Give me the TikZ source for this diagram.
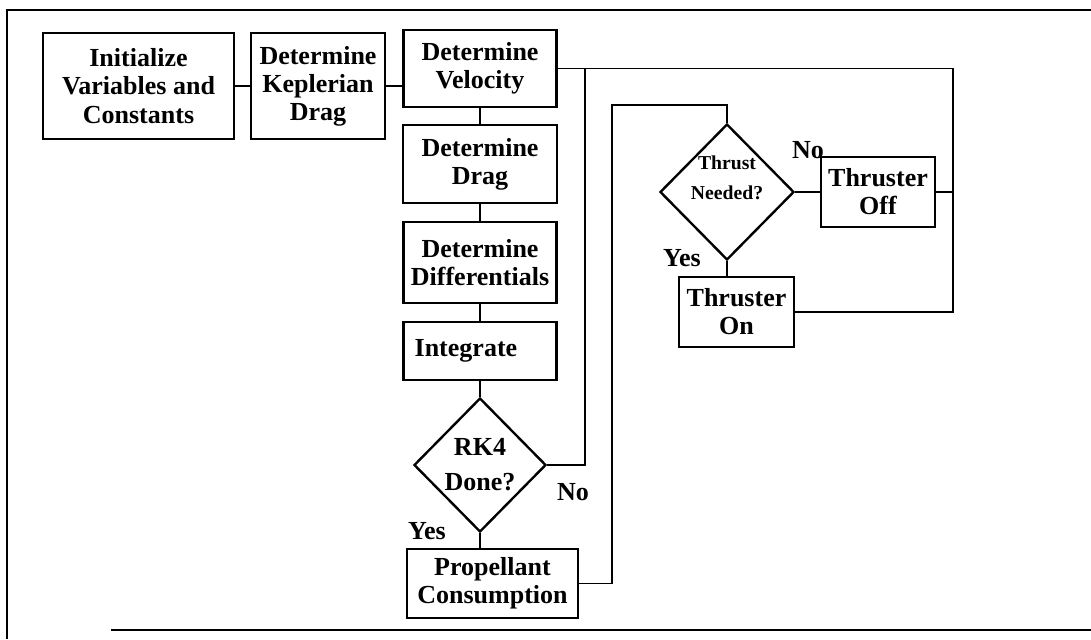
\documentclass[tikz,border=0pt]{standalone}
\usepackage{fontspec}
\setmainfont{Liberation Serif}
\usetikzlibrary{shapes.geometric}

\begin{document}
\begin{tikzpicture}[x=0.025cm,y=-0.025cm]
\tikzstyle{every path}=[line width=1.3pt];
\tikzstyle{blk}=[draw,line width=1.7pt,align=center,inner sep=1pt,font=\fontsize{18.5}{20}\selectfont\bfseries];
\tikzstyle{dec}=[blk,shape=diamond,inner sep=0pt];
\tikzstyle{lbl}=[font=\fontsize{18.5}{20}\selectfont\bfseries];
\useasboundingbox (0,0) rectangle (1091,639);
\draw[line width=0.8pt] (7,639) -- (7,10) -- (1091,10);
\draw[line width=0.8pt] (111,630) -- (1091,630);
\node (init) [blk,minimum width=4.775cm,minimum height=2.65cm] at (138.5,86) {Initialize\\Variables and\\Constants};
\node (kepler) [blk,minimum width=3.35cm,minimum height=2.65cm] at (318,86) {Determine\\Keplerian\\Drag};
\node (velocity) [blk,minimum width=3.825cm,minimum height=1.925cm] at (480,68.5) {Determine\\Velocity};
\node (drag) [blk,minimum width=3.85cm,minimum height=1.95cm] at (480,164) {Determine\\Drag};
\node (diff) [blk,minimum width=3.825cm,minimum height=2.025cm] at (480,262.5) {Determine\\Differentials};
\node (integ) [blk,minimum width=3.825cm,minimum height=1.45cm] at (480,351) {Integrate\hspace*{20pt}};
\node (rk4) [dec,minimum width=3.3cm,minimum height=3.35cm] at (480,465) {RK4\\[5pt]Done?};
\node (prop) [blk,minimum width=4.275cm,minimum height=1.725cm] at (492.5,583.5) {Propellant\\Consumption};
\node (thrust) [dec,minimum width=3.35cm,minimum height=3.4cm,font=\fontsize{14}{21}\selectfont\bfseries] at (727,192)
  {\raisebox{-5pt}[0pt][0pt]{\begin{tabular}[b]{@{}c@{}}Thrust\\Needed?\end{tabular}}};
\node (off) [blk,minimum width=2.85cm,minimum height=1.75cm] at (878,192) {Thruster\\Off};
\node (on) [blk,minimum width=2.875cm,minimum height=1.75cm] at (736.5,312) {Thruster\\On};
\node (noA) [lbl] at (808,150) {No};
\node (yesA) [lbl] at (682,258) {Yes};
\node (noB) [lbl] at (573,492) {No};
\node (yesB) [lbl] at (427,531) {Yes};
\coordinate (back) at (585,68.5);
\coordinate (rt) at (953,68.5);
\coordinate (loop) at (612,105);
\draw (init) -- (kepler);
\draw (kepler.east) -- (kepler.east -| velocity.west);
\draw (velocity) -- (drag);
\draw (drag) -- (diff);
\draw (diff) -- (integ);
\draw (integ) -- (rk4);
\draw (rk4.south) -- (rk4.south |- prop.north);
\draw (rk4.east) -| (back);
\draw (velocity.east) -- (rt) |- (on.east);
\draw (off.east) -- (off.east -| rt);
\draw (prop.east) -| (loop) -| (thrust.north);
\draw (thrust.east) -- (off.west);
\draw (thrust.south) -- (thrust.south |- on.north);
\end{tikzpicture}
\end{document}
